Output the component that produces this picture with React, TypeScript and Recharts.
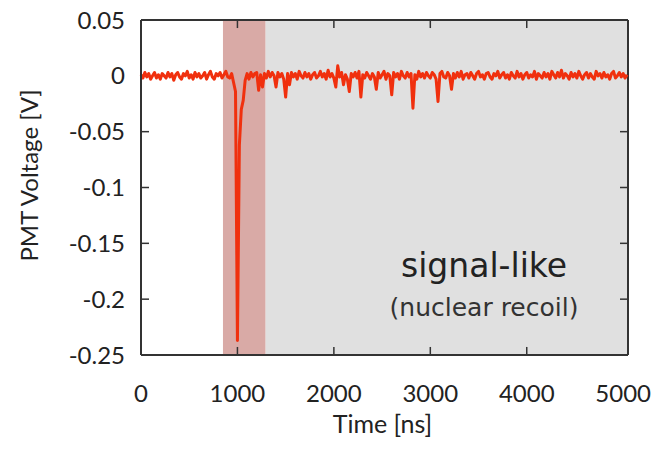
import React from "react";
import {
  ComposedChart,
  Line,
  XAxis,
  YAxis,
  ReferenceArea,
  ReferenceDot,
  ReferenceLine,
  Label,
} from "recharts";

// PMT trace, sampled every 20 ns starting at 0 ns (values in mV)
const SAMPLE_NS = 20;
const traceMilliVolts = [
  1, -2, 3, -1, 2, -3, 0, 3, -2, 1,
  -3, 2, 0, -2, 3, -1, 2, -4, 1, 3,
  -1, -3, 2, 0, 4, -2, 1, -3, 3, -1,
  2, -2, 0, 3, -3, 1, 4, -1, -3, 2,
  0, 3, -2, 1, 4, -1, -2, 2, -6, -14,
  -237, -62, -30, -22, -4, 2, -3, 3, -1, 2,
  3, -13, 1, -10, 2, -2, 4, -1, 3, 0,
  -10, 3, -1, 2, -3, -19, 2, -8, 3, -1,
  2, -3, 4, 0, -2, 3, -1, 2, -3, 1,
  3, -2, 0, 4, -1, 2, -3, 5, -1, 2,
  -2, -10, 9, -1, 3, -8, 1, -3, -14, 2,
  -1, 3, -2, 4, -19, 1, -2, 3, 0, -3,
  2, -1, -12, 3, -2, 1, 4, -3, 2, 0,
  -17, 3, -1, 2, -3, 4, 0, -2, 3, -1,
  2, -29, 1, -3, 4, -1, 2, -2, 3, 0,
  -2, 3, 1, -3, -23, 2, 4, -1, -2, 3,
  0, -12, 2, -2, 3, -1, 4, -3, 1, 2,
  -2, 3, 0, -3, 2, 4, -1, 1, -3, 2,
  3, -1, -3, 2, 0, 4, -2, 1, 3, -2,
  1, -3, 3, 0, -2, 4, -1, 2, -3, 1,
  3, -2, 1, -1, 4, -3, 2, 0, -2, 3,
  -1, 2, -3, 4, 1, -2, 3, -1, 5, -2,
  2, 0, -3, 3, -1, 2, -2, 4, 0, -3,
  1, 3, -2, 2, -1, -3, 4, 0, 2, -2,
  3, -1, 1, -3, 2, 4, -2, 0, 3, -1,
  2, -2, 1,
];

const xDomain = [0, 5050];
const xTicks = [0, 1000, 2000, 3000, 4000, 5000];
const yDomain = [-0.25, 0.05];
const yTicks = [0.05, 0, -0.05, -0.1, -0.15, -0.2, -0.25];

// shaded windows [start, end] in ns
const promptWindow = [850, 1290];
const lateWindow = [1290, 5050];

const annotationAt = { t: 3557, v: -0.18 };

const data = traceMilliVolts.map((mv, i) => ({ t: i * SAMPLE_NS, v: mv / 1000 }));

// inward tick length, ~8px in each axis' units
const TICK_LEN_T = 83;
const TICK_LEN_V = 0.0072;

const FRAME = "#333";
const TICK_FONT = { fontFamily: "Lato", fontSize: 24, fill: "#222" };
const FRAME_LINE = { stroke: FRAME, strokeWidth: 2 };

const YTitle = (props: any) => {
  const vb = props.viewBox || { x: 0, y: 0, width: 0, height: 0 };
  const x = vb.x + 28;
  const y = vb.y + vb.height / 2 - 12;
  return (
    <text
      x={x}
      y={y}
      transform={`rotate(-90, ${x}, ${y})`}
      textAnchor="middle"
      dominantBaseline="central"
      fontFamily="Lato"
      fontSize={24}
      fill="#222"
    >
      PMT Voltage [V]
    </text>
  );
};

const XTitle = (props: any) => {
  const vb = props.viewBox || { x: 0, y: 0, width: 0, height: 0 };
  return (
    <text
      x={vb.x + vb.width / 2 - 2}
      y={vb.y + 78}
      textAnchor="middle"
      fontFamily="Lato"
      fontSize={25}
      fill="#222"
    >
      Time [ns]
    </text>
  );
};

const Annotation = (props: any) => {
  const vb = props.viewBox || { x: 0, y: 0, width: 0, height: 0 };
  const cx = vb.x + (vb.width || 0) / 2;
  const cy = vb.y + (vb.height || 0) / 2;
  return (
    <g>
      <text x={cx} y={cy} textAnchor="middle" fontFamily="DejaVu Sans" fontSize={33} fill="#222">
        signal-like
      </text>
      <text x={cx} y={cy + 39} textAnchor="middle" fontFamily="DejaVu Sans" fontSize={25} fill="#333">
        (nuclear recoil)
      </text>
    </g>
  );
};

export default function App() {
  const [vMin, vMax] = yDomain;
  const [tMin, tMax] = xDomain;
  return (
    <div style={{ position: "absolute", left: 0, top: 0, width: 659, height: 450, background: "#fff" }}>
      <ComposedChart
        width={659}
        height={450}
        data={data}
        margin={{ top: 20, right: 31, bottom: 0, left: 0 }}
      >
        <XAxis
          xAxisId="b"
          dataKey="t"
          type="number"
          domain={xDomain}
          ticks={xTicks}
          interval={0}
          height={95}
          tickSize={0}
          tickMargin={30}
          tick={TICK_FONT}
          axisLine={FRAME_LINE}
          tickLine={false}
        >
          <Label content={<XTitle />} />
        </XAxis>
        <YAxis
          yAxisId="l"
          type="number"
          domain={yDomain}
          ticks={yTicks}
          interval={0}
          width={141}
          tickSize={0}
          tickMargin={16}
          tick={TICK_FONT}
          axisLine={FRAME_LINE}
          tickLine={false}
        >
          <Label content={<YTitle />} />
        </YAxis>
        <ReferenceArea
          xAxisId="b"
          yAxisId="l"
          x1={lateWindow[0]}
          x2={lateWindow[1]}
          fill="#e0e0e0"
          fillOpacity={1}
          stroke="none"
        />
        <ReferenceArea
          xAxisId="b"
          yAxisId="l"
          x1={promptWindow[0]}
          x2={promptWindow[1]}
          fill="#d9aaa6"
          fillOpacity={1}
          stroke="none"
        />
        {/* inward ticks on all four sides */}
        {xTicks.slice(1, -1).map((t) => (
          <ReferenceLine
            key={`xb${t}`}
            xAxisId="b"
            yAxisId="l"
            segment={[{ x: t, y: vMin }, { x: t, y: vMin + TICK_LEN_V }]}
            stroke={FRAME}
            strokeWidth={1.5}
            ifOverflow="visible"
          />
        ))}
        {xTicks.slice(1, -1).map((t) => (
          <ReferenceLine
            key={`xt${t}`}
            xAxisId="b"
            yAxisId="l"
            segment={[{ x: t, y: vMax }, { x: t, y: vMax - TICK_LEN_V }]}
            stroke={FRAME}
            strokeWidth={1.5}
            ifOverflow="visible"
          />
        ))}
        {yTicks.slice(1, -1).map((v) => (
          <ReferenceLine
            key={`yl${v}`}
            xAxisId="b"
            yAxisId="l"
            segment={[{ x: tMin, y: v }, { x: tMin + TICK_LEN_T, y: v }]}
            stroke={FRAME}
            strokeWidth={1.5}
            ifOverflow="visible"
          />
        ))}
        {yTicks.slice(1, -1).map((v) => (
          <ReferenceLine
            key={`yr${v}`}
            xAxisId="b"
            yAxisId="l"
            segment={[{ x: tMax, y: v }, { x: tMax - TICK_LEN_T, y: v }]}
            stroke={FRAME}
            strokeWidth={1.5}
            ifOverflow="visible"
          />
        ))}
        <ReferenceLine xAxisId="b" yAxisId="l" y={vMax} stroke={FRAME} strokeWidth={2} ifOverflow="visible" />
        <ReferenceLine xAxisId="b" yAxisId="l" x={tMax} stroke={FRAME} strokeWidth={2} ifOverflow="visible" />
        <Line
          xAxisId="b"
          yAxisId="l"
          dataKey="v"
          type="linear"
          stroke="#f0300e"
          strokeWidth={3}
          strokeLinejoin="round"
          dot={false}
          isAnimationActive={false}
        />
        <ReferenceDot
          xAxisId="b"
          yAxisId="l"
          x={annotationAt.t}
          y={annotationAt.v}
          r={0}
          fill="none"
          stroke="none"
          label={<Annotation />}
        />
      </ComposedChart>
    </div>
  );
}
